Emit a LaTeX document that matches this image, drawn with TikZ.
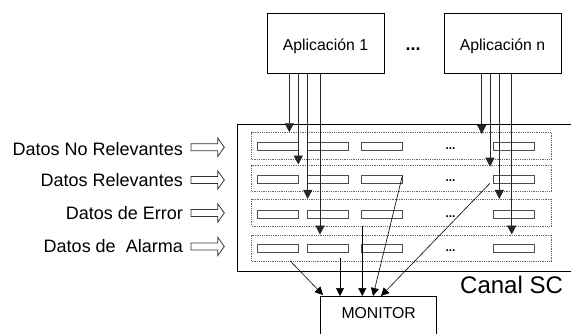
\documentclass[tikz,border=0pt]{standalone}
\usepackage{fontspec}
\setmainfont{Liberation Sans}
\usetikzlibrary{arrows.meta}
\begin{document}
\begin{tikzpicture}[x=1pt,y=-1pt,
  appbox/.style={draw, line width=0.8pt, minimum width=117pt, minimum height=60pt,
    inner sep=0pt, text height=14.3pt, text depth=0pt,
    font=\fontsize{15.8}{18}\selectfont},
  rowbox/.style={draw=black!60, densely dotted, line width=0.8pt,
    minimum width=300pt, minimum height=26.7pt, inner sep=0pt},
  slot/.style={draw=black!70, line width=0.8pt, minimum width=41pt,
    minimum height=8pt, inner sep=0pt},
  feed/.style={draw=black!85, line width=0.8pt, -{Triangle[length=9pt,width=9pt]}},
  tomon/.style={draw=black, line width=0.6pt, -{Triangle[length=8pt,width=8pt]}},
  lbl/.style={anchor=base east, inner sep=0pt, font=\fontsize{18}{21}\selectfont},
  dots/.style={inner sep=0pt, anchor=base, font=\fontsize{12}{14}\selectfont\bfseries},
  hollow/.style={draw=black!80, line width=0.8pt, fill=white}
]
\useasboundingbox (0,0) rectangle (571,333);
\clip (0,0) rectangle (571,333);

% applications
\node[appbox] (a1) at (325.5,43) {Aplicación 1};
\node[appbox] (an) at (502.5,43) {Aplicación n};
\node[inner sep=0pt, anchor=base, font=\fontsize{18}{20}\selectfont\bfseries] (adots) at (413,50) {...};

% channel frame (open on the right, past the edge)
\draw[line width=0.8pt] (590,124) -- (237.3,124) -- (237.3,271) -- (590,271);
\node[anchor=base west, inner sep=0pt, font=\fontsize{24}{28}\selectfont] (canal) at (460,293) {Canal SC};

% data rows with their slots
\foreach \i/\yc/\ys in {1/146/146.7, 2/178.3/178.9, 3/212.7/214, 4/248.3/248.3}{
  \node[rowbox] (r\i) at (401.7,\yc) {};
  \node[slot] (s\i a) at (277.8,\ys) {};
  \node[slot] (s\i b) at (328.3,\ys) {};
  \node[slot] (s\i c) at (381.7,\ys) {};
  \node[slot] (s\i d) at (513.8,\ys) {};
  \node[dots] (d\i) at (450.5,\ys+3) {...};
}

% monitor
\node[draw, line width=0.8pt, anchor=north, minimum width=116pt, inner xsep=0pt,
  inner ysep=11pt, text height=11.3pt, text depth=30pt,
  font=\fontsize{15.8}{18}\selectfont] (mon) at (378.7,296) {MONITOR};

% left labels with hollow arrows
\foreach \n/\t/\yb/\ya in {1/Datos No Relevantes/155/147.3,
                           2/Datos Relevantes/186/180,
                           3/Datos de Error/219/213,
                           4/{Datos de \ Alarma}/252.3/246.5}{
  \node[lbl] (l\n) at (183,\yb) {\t};
  \draw[hollow] (191,\ya-3.5) -- (217.7,\ya-3.5) -- (217.7,\ya-9.2) -- (224.3,\ya)
     -- (217.7,\ya+9.2) -- (217.7,\ya+3.5) -- (191,\ya+3.5) -- cycle;
}

% feeds from application 1
\draw[feed] (289.3,0 |- a1.south) -- (289.3,0 |- r1.north);
\draw[feed] (298.3,0 |- a1.south) -- (298.3,0 |- r2.north);
\draw[feed] (307.7,0 |- a1.south) -- (307.7,0 |- r3.north);
\draw[feed] (320,0 |- a1.south) -- (320,0 |- r4.north);

% feeds from application n
\draw[feed] (481.7,0 |- an.south) -- (481.7,134);
\draw[feed] (490,0 |- an.south) -- (490,166.7);
\draw[feed] (499.3,0 |- an.south) -- (499.3,0 |- r3.north);
\draw[feed] (511.7,0 |- an.south) -- (511.7,0 |- r4.north);

% flows towards the monitor
\coordinate (m1) at (290,260.7);
\coordinate (m2) at (340,258);
\coordinate (m3) at (362.3,226);
\coordinate (m4) at (402.3,176);
\coordinate (m5) at (490,183.3);
\draw[tomon] (m1) -- (323,295);
\draw[tomon] (m2) -- (340,0 |- mon.north);
\draw[tomon] (m3) -- (362.3,0 |- mon.north);
\draw[tomon] (m4) -- (373,0 |- mon.north);
\draw[tomon] (m5) -- (381,0 |- mon.north);
\end{tikzpicture}
\end{document}
